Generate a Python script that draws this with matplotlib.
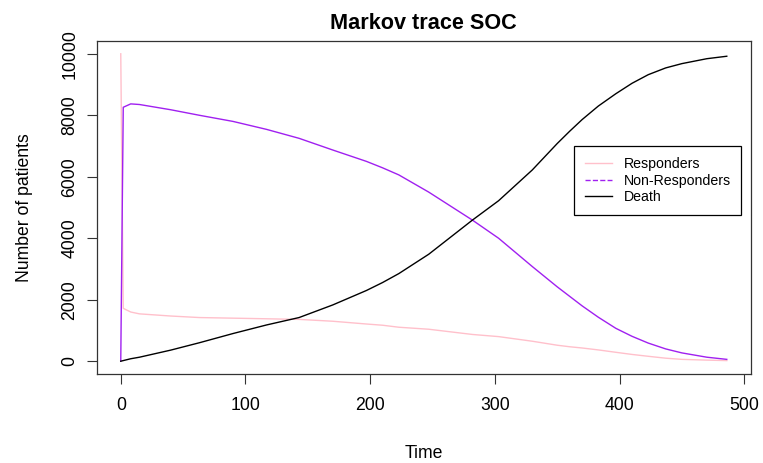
import numpy as np
import matplotlib
matplotlib.use("Agg")
import matplotlib.pyplot as plt
from matplotlib.lines import Line2D

plt.rcParams["font.family"] = ["Liberation Sans", "DejaVu Sans"]

# Markov trace (cycle, patients per state)
time = [0, 1, 2, 8, 15, 40, 63, 90, 117, 143, 170, 197, 210, 223, 247, 282,
        303, 330, 350, 360, 370, 383, 397, 410, 423, 437, 450, 470, 486]
responders = [10000, 5800, 1720, 1600, 1540, 1470, 1420, 1400, 1380, 1360, 1300,
              1210, 1170, 1105, 1040, 870, 800, 650, 520, 470, 430, 367, 290,
              220, 160, 98, 60, 35, 20]
non_responders = [0, 4150, 8260, 8370, 8350, 8180, 8000, 7800, 7540, 7250, 6870,
                  6500, 6290, 6060, 5500, 4590, 4000, 3080, 2420, 2110, 1800,
                  1430, 1070, 810, 590, 400, 270, 130, 60]
death = [0, 10, 20, 80, 130, 360, 600, 900, 1180, 1420, 1830, 2300, 2560, 2850,
         3480, 4590, 5220, 6220, 7080, 7480, 7860, 8300, 8700, 9040, 9320, 9540,
         9680, 9840, 9920]

series = [("Responders", responders, "#FFC0CB", "-"),
          ("Non-Responders", non_responders, "#A020F0", "--"),
          ("Death", death, "black", "-")]

fig = plt.figure(figsize=(7.63, 4.63), dpi=100)
ax = fig.add_axes([0.1265, 0.1933, 0.8578, 0.7171])

for name, vals, col, _ in series:
    ax.plot(time, vals, color=col, linewidth=1.0)

tmax = max(time)
ax.set_xlim(-0.04 * tmax, 1.04 * tmax)
ax.set_ylim(-400, 10400)
ax.set_xticks(np.arange(0, 501, 100))
ax.set_yticks(np.arange(0, 10001, 2000))
ax.tick_params(axis="both", length=7.2, width=0.8, labelsize=12.7, color="#333333")
ax.tick_params(axis="x", pad=10)
ax.tick_params(axis="y", pad=6)
for lab in ax.get_yticklabels():
    lab.set_rotation(90)
    lab.set_va("center")
for s in ax.spines.values():
    s.set_color("#333333")
    s.set_linewidth(0.9)

ax.set_title("Markov trace SOC", fontsize=15.6, fontweight="bold", pad=9)
ax.set_xlabel("Time", fontsize=12.7, labelpad=22)
ax.set_ylabel("Number of patients", fontsize=12.7, labelpad=20)

handles = [Line2D([], [], color=col, linestyle=ls, linewidth=1.0)
           for _, _, col, ls in series]
leg = ax.legend(handles, [s[0] for s in series], loc="upper left",
                bbox_to_anchor=(0.7296, 0.685), borderaxespad=0, fontsize=10.2,
                frameon=True, fancybox=False, edgecolor="black", framealpha=1,
                handlelength=1.9, handletextpad=0.85, labelspacing=0.2,
                borderpad=0.75)
leg.get_frame().set_linewidth(0.9)

fig.savefig("out.png", dpi=100)
plt.close(fig)
